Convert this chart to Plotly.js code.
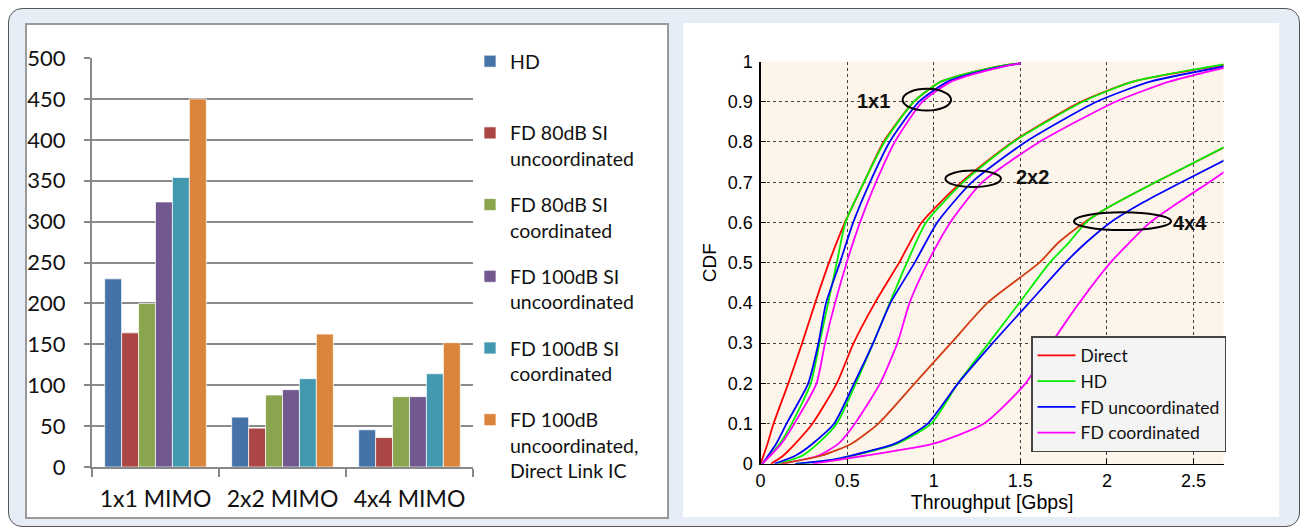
<!DOCTYPE html>
<html>
<head>
<meta charset="utf-8">
<script src="https://cdn.plot.ly/plotly-3.0.1.min.js"></script>
<style>
  html, body { margin:0; padding:0; background:#ffffff; width:1303px; height:530px; overflow:hidden; }
  #frame { position:absolute; left:8px; top:8px; width:1292px; height:519px; box-sizing:border-box;
           border:1.5px solid #555; border-radius:14px; background:#e6edf7; }
  #panelL { position:absolute; left:25px; top:23px; width:644px; height:496px; box-sizing:border-box;
            background:#ffffff; border:2px solid #9a9a9a; }
  #panelR { position:absolute; left:683px; top:23px; width:596px; height:494px; background:#ffffff; }
  #chart { position:absolute; left:0; top:0; width:1303px; height:530px; }
</style>
</head>
<body>
<div id="frame"></div>
<div id="panelL"></div>
<div id="panelR"></div>
<div id="chart"></div>
<script>
// ---------- Bar chart data ----------
const categories = ['1x1 MIMO', '2x2 MIMO', '4x4 MIMO'];
const barSeriesNames = [
  'HD<br>\u00a0',
  'FD 80dB SI<br>uncoordinated',
  'FD 80dB SI<br>coordinated',
  'FD 100dB SI<br>uncoordinated',
  'FD 100dB SI<br>coordinated',
  'FD 100dB<br>uncoordinated,<br>Direct Link IC'
];
const hdValues          = [230, 61, 45.5];
const fd80UncValues     = [164, 47.5, 36];
const fd80CoordValues   = [200, 88, 86];
const fd100UncValues    = [324, 94.5, 86];
const fd100CoordValues  = [354, 108, 114];
const fd100DirectValues = [450, 162.5, 152];
const barColors = ['#4572A7', '#AA4643', '#89A54E', '#71588F', '#4198AF', '#DB843D'];
const yTickVals = [0, 50, 100, 150, 200, 250, 300, 350, 400, 450, 500];

// ---------- CDF data ----------
const cdfNames = ['Direct', 'HD', 'FD uncoordinated', 'FD coordinated'];
const cdfColors = ['#ff0000', '#00ee00', '#0000ff', '#ff00ff'];
const direct4x4Color = '#d23c14';

const cdf1x1Y      = [0, 0.05, 0.1, 0.2, 0.3, 0.4, 0.5, 0.6, 0.7, 0.8, 0.9, 0.95, 0.97, 0.99, 0.995];
const direct1x1X   = [0, 0.04, 0.075, 0.16, 0.24, 0.315, 0.395, 0.487, 0.597, 0.71, 0.885, 1.04, 1.19, 1.40, 1.5];
const hd1x1X       = [0.01, 0.11, 0.18, 0.29, 0.34, 0.39, 0.44, 0.49, 0.597, 0.715, 0.885, 1.04, 1.19, 1.40, 1.5];
const fdUnc1x1X    = [0.01, 0.09, 0.15, 0.275, 0.334, 0.378, 0.458, 0.535, 0.632, 0.745, 0.915, 1.08, 1.22, 1.42, 1.5];
const fdCoord1x1X  = [0.01, 0.12, 0.195, 0.323, 0.372, 0.43, 0.497, 0.574, 0.666, 0.775, 0.935, 1.10, 1.24, 1.43, 1.5];

const direct2x2Y   = [0, 0.02, 0.05, 0.1, 0.2, 0.3, 0.4, 0.5, 0.6, 0.7, 0.8, 0.9, 0.95, 0.992];
const direct2x2X   = [0.06, 0.13, 0.2, 0.3, 0.44, 0.537, 0.66, 0.80, 0.93, 1.16, 1.455, 1.85, 2.15, 2.68];
const hd2x2Y       = [0, 0.02, 0.05, 0.1, 0.2, 0.3, 0.4, 0.5, 0.6, 0.7, 0.8, 0.9, 0.95, 0.993];
const hd2x2X       = [0.1, 0.24, 0.33, 0.44, 0.55, 0.65, 0.746, 0.845, 0.955, 1.17, 1.46, 1.86, 2.15, 2.68];
const fdUnc2x2Y    = [0, 0.02, 0.05, 0.1, 0.2, 0.3, 0.4, 0.5, 0.6, 0.7, 0.8, 0.9, 0.95, 0.988];
const fdUnc2x2X    = [0.08, 0.2, 0.3, 0.425, 0.54, 0.65, 0.75, 0.89, 1.02, 1.22, 1.53, 1.94, 2.25, 2.68];
const fdCoord2x2Y  = [0, 0.02, 0.05, 0.1, 0.2, 0.3, 0.4, 0.5, 0.6, 0.7, 0.8, 0.9, 0.95, 0.985];
const fdCoord2x2X  = [0.12, 0.33, 0.45, 0.545, 0.69, 0.79, 0.86, 0.965, 1.095, 1.28, 1.61, 2.05, 2.36, 2.68];

const direct4x4Y   = [0, 0.02, 0.05, 0.1, 0.2, 0.3, 0.4, 0.5, 0.55, 0.6, 0.625, 0.65, 0.7, 0.787];
const direct4x4X   = [0.12, 0.35, 0.525, 0.68, 0.89, 1.10, 1.31, 1.61, 1.72, 1.87, 1.96, 2.06, 2.28, 2.68];
const hd4x4Y       = [0, 0.01, 0.02, 0.05, 0.1, 0.2, 0.3, 0.4, 0.5, 0.55, 0.6, 0.625, 0.65, 0.7, 0.788];
const hd4x4X       = [0.2, 0.42, 0.53, 0.79, 0.985, 1.14, 1.317, 1.494, 1.67, 1.78, 1.88, 1.96, 2.06, 2.28, 2.68];
const fdUnc4x4Y    = [0, 0.01, 0.02, 0.05, 0.1, 0.2, 0.3, 0.4, 0.5, 0.55, 0.6, 0.65, 0.7, 0.755];
const fdUnc4x4X    = [0.2, 0.41, 0.52, 0.775, 0.965, 1.14, 1.34, 1.55, 1.76, 1.88, 2.02, 2.21, 2.43, 2.68];
const fdCoord4x4Y  = [0, 0.02, 0.05, 0.1, 0.2, 0.3, 0.4, 0.5, 0.55, 0.6, 0.65, 0.7, 0.726];
const fdCoord4x4X  = [0.3, 0.6, 1.0, 1.29, 1.53, 1.68, 1.84, 2.02, 2.13, 2.25, 2.415, 2.59, 2.68];

const cdfXTicks = [0, 0.5, 1, 1.5, 2, 2.5];
const cdfYTicks = [0, 0.1, 0.2, 0.3, 0.4, 0.5, 0.6, 0.7, 0.8, 0.9, 1];
const groupLabels = ['1x1', '2x2', '4x4'];
const groupLabelX = [0.654, 1.569, 2.477];
const groupLabelY = [0.903, 0.713, 0.598];
const ellipseX0 = [0.82, 1.067, 1.81];
const ellipseX1 = [1.10, 1.388, 2.37];
const ellipseY0 = [0.878, 0.688, 0.581];
const ellipseY1 = [0.932, 0.729, 0.625];

// ---------- Build traces ----------
const barValues = [hdValues, fd80UncValues, fd80CoordValues, fd100UncValues, fd100CoordValues, fd100DirectValues];
const traces = [];
barValues.forEach((vals, i) => {
  traces.push({
    type: 'bar', x: categories, y: vals, name: barSeriesNames[i],
    marker: { color: barColors[i], line: { color: 'rgba(255,255,255,0.7)', width: 1 } },
    xaxis: 'x', yaxis: 'y', legend: 'legend', legendgroup: 'b' + i, hoverinfo: 'skip'
  });
});

const cdfSets = [
  [[direct1x1X, cdf1x1Y], [hd1x1X, cdf1x1Y], [fdUnc1x1X, cdf1x1Y], [fdCoord1x1X, cdf1x1Y]],
  [[direct2x2X, direct2x2Y], [hd2x2X, hd2x2Y], [fdUnc2x2X, fdUnc2x2Y], [fdCoord2x2X, fdCoord2x2Y]],
  [[direct4x4X, direct4x4Y], [hd4x4X, hd4x4Y], [fdUnc4x4X, fdUnc4x4Y], [fdCoord4x4X, fdCoord4x4Y]]
];
cdfSets.forEach((set, g) => {
  set.forEach((xy, s) => {
    const col = (g === 2 && s === 0) ? direct4x4Color : cdfColors[s];
    traces.push({
      type: 'scatter', mode: 'lines', x: xy[0], y: xy[1], name: cdfNames[s],
      line: { color: col, width: 1.8, shape: 'spline', smoothing: 0.6 },
      xaxis: 'x2', yaxis: 'y2', legend: 'legend2', legendgroup: 'c' + s,
      showlegend: g === 0, hoverinfo: 'skip'
    });
  });
});

const W = 1303, H = 530;
const shapes = groupLabels.map((_, i) => ({
  type: 'circle', xref: 'x2', yref: 'y2',
  x0: ellipseX0[i], x1: ellipseX1[i], y0: ellipseY0[i], y1: ellipseY1[i],
  line: { color: '#000', width: 2 }
}));
const annotations = groupLabels.map((t, i) => ({
  xref: 'x2', yref: 'y2', x: groupLabelX[i], y: groupLabelY[i], text: '<b>' + t + '</b>',
  showarrow: false, font: { family: 'Liberation Sans, Arial', size: 20, color: '#111' }
}));

const layout = {
  width: W, height: H,
  margin: { l: 0, r: 0, t: 0, b: 0 },
  paper_bgcolor: 'rgba(0,0,0,0)',
  plot_bgcolor: 'rgba(0,0,0,0)',
  barmode: 'group', bargap: 0.2, bargroupgap: 0,
  showlegend: true,
  xaxis: {
    domain: [92 / W, 473 / W], anchor: 'y', type: 'category',
    tickson: 'boundaries', ticks: 'outside', ticklen: 8, tickwidth: 2, tickcolor: '#888',
    showline: true, linecolor: '#888', linewidth: 2, showgrid: false,
    tickfont: { family: 'Lato', size: 23, color: '#111' }, ticklabelstandoff: 10,
    fixedrange: true
  },
  yaxis: {
    domain: [1 - 467 / H, 1 - 58 / H], anchor: 'x', range: [0, 500],
    tickvals: yTickVals, ticks: 'outside', ticklen: 6, tickwidth: 2, tickcolor: '#888',
    showline: true, linecolor: '#888', linewidth: 2,
    showgrid: true, gridcolor: '#8a8a8a', gridwidth: 2, zeroline: false,
    tickfont: { family: 'Lato', size: 22, color: '#111' }, ticklabelstandoff: 14,
    fixedrange: true
  },
  xaxis2: {
    domain: [760.6 / W, 1223.5 / W], anchor: 'y2', range: [0, 2.673],
    tickvals: cdfXTicks, ticktext: ['0', '0.5', '1', '1.5', '2', '2.5'],
    ticks: 'inside', ticklen: 5, tickcolor: '#000',
    showline: true, linecolor: '#000', linewidth: 1.2,
    showgrid: true, gridcolor: '#444', gridwidth: 1, griddash: 'dot', zeroline: false,
    tickfont: { family: 'Liberation Sans, Arial', size: 18, color: '#000' }, ticklabelstandoff: 0,
    title: { text: 'Throughput [Gbps]', font: { family: 'Liberation Sans, Arial', size: 19.5, color: '#000' }, standoff: 0 },
    fixedrange: true
  },
  yaxis2: {
    domain: [1 - 463.8 / H, 1 - 61.5 / H], anchor: 'x2', range: [0, 1],
    tickvals: cdfYTicks, ticktext: ['0', '0.1', '0.2', '0.3', '0.4', '0.5', '0.6', '0.7', '0.8', '0.9', '1'],
    ticks: 'inside', ticklen: 5, tickcolor: '#000',
    showline: true, linecolor: '#000', linewidth: 1.2,
    showgrid: true, gridcolor: '#444', gridwidth: 1, griddash: 'dot', zeroline: false,
    tickfont: { family: 'Liberation Sans, Arial', size: 18, color: '#000' }, ticklabelstandoff: 3,
    title: { text: 'CDF', font: { family: 'Liberation Sans, Arial', size: 19, color: '#000' }, standoff: 6 },
    fixedrange: true
  },
  legend: {
    x: 470 / W, y: 1 - 42 / H, xanchor: 'left', yanchor: 'top',
    bgcolor: 'rgba(0,0,0,0)', borderwidth: 0,
    font: { family: 'Lato', size: 19.5, color: '#111' },
    traceorder: 'grouped', tracegroupgap: 18, valign: 'top', itemclick: false, itemdoubleclick: false
  },
  legend2: {
    x: 1226 / W, y: 1 - 452 / H, xanchor: 'right', yanchor: 'bottom',
    bgcolor: '#f4f4f4', bordercolor: '#444', borderwidth: 1.5,
    font: { family: 'Lato', size: 17.5, color: '#111' },
    traceorder: 'grouped', tracegroupgap: 0, itemwidth: 38, itemclick: false, itemdoubleclick: false
  },
  shapes: [
    { type: 'rect', xref: 'x2 domain', yref: 'y2 domain', x0: 0, x1: 1, y0: 0, y1: 1,
      fillcolor: '#fdf5e9', line: { width: 0 }, layer: 'below' }
  ].concat(shapes),
  annotations: annotations
};

Plotly.newPlot('chart', traces, layout, { staticPlot: true, displayModeBar: false });
</script>
</body>
</html>
